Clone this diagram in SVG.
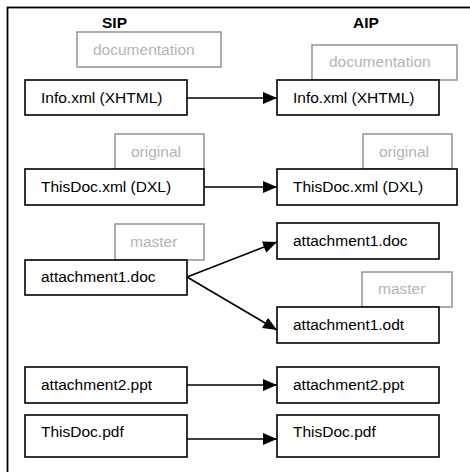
<svg xmlns="http://www.w3.org/2000/svg" width="470" height="472" viewBox="0 0 470 472">
<defs>
<style>
text{font-family:"Liberation Sans",Arial,sans-serif;font-size:15.5px}
.hdr{font-weight:bold;fill:#000}
.box{fill:#fff;stroke:#000;stroke-width:1.6}
.gbox{fill:#fff;stroke:#9a9a9a;stroke-width:1.6}
.t{fill:#000}
.gt{fill:#b4b4b4}
.conn{stroke:#000;stroke-width:1.6;fill:none;marker-end:url(#ah)}
</style>
<marker id="ah" markerUnits="userSpaceOnUse" markerWidth="15" markerHeight="13" refX="14" refY="6" orient="auto">
<path d="M0,0 L14,6 L0,12 z" fill="#000"/>
</marker>
</defs>
<rect x="0" y="0" width="470" height="472" fill="#fff"/>
<rect x="7.5" y="7.5" width="480" height="480" fill="none" stroke="#000" stroke-width="1.8"/>
<text class="hdr" x="102" y="28">SIP</text>
<text class="hdr" x="353" y="28">AIP</text>

<g id="doc_sip"><rect class="gbox" x="77" y="32" width="144" height="35"/><text class="gt" x="93" y="54.5">documentation</text></g>
<g id="orig_sip"><rect class="gbox" x="115" y="134" width="89" height="35"/><text class="gt" x="131" y="157">original</text></g>
<g id="master_sip"><rect class="gbox" x="115" y="224" width="89" height="36"/><text class="gt" x="130" y="247">master</text></g>
<g id="doc_aip"><rect class="gbox" x="312" y="45" width="145" height="35"/><text class="gt" x="329" y="67">documentation</text></g>
<g id="orig_aip"><rect class="gbox" x="363" y="134" width="89" height="35"/><text class="gt" x="379" y="157">original</text></g>
<g id="master_aip"><rect class="gbox" x="362" y="272" width="90" height="35"/><text class="gt" x="378" y="294">master</text></g>

<g id="info_sip"><rect class="box" x="25" y="80" width="162" height="35"/><text class="t" x="41" y="103">Info.xml (XHTML)</text></g>
<g id="thisdoc_sip"><rect class="box" x="25" y="169" width="179" height="36"/><text class="t" x="41" y="192">ThisDoc.xml (DXL)</text></g>
<g id="att1_sip"><rect class="box" x="25" y="260" width="162" height="35"/><text class="t" x="41" y="282">attachment1.doc</text></g>
<g id="att2_sip"><rect class="box" x="25" y="367" width="162" height="36"/><text class="t" x="41" y="390">attachment2.ppt</text></g>
<g id="pdf_sip"><rect class="box" x="25" y="415" width="162" height="42"/><text class="t" x="41" y="437">ThisDoc.pdf</text></g>

<g id="info_aip"><rect class="box" x="277" y="80" width="162" height="35"/><text class="t" x="293" y="103">Info.xml (XHTML)</text></g>
<g id="thisdoc_aip"><rect class="box" x="277" y="169" width="180" height="36"/><text class="t" x="293" y="192">ThisDoc.xml (DXL)</text></g>
<g id="att1doc_aip"><rect class="box" x="277" y="223" width="162" height="36"/><text class="t" x="293" y="246">attachment1.doc</text></g>
<g id="att1odt_aip"><rect class="box" x="277" y="307" width="162" height="36"/><text class="t" x="293" y="330">attachment1.odt</text></g>
<g id="att2_aip"><rect class="box" x="277" y="367" width="162" height="36"/><text class="t" x="293" y="390">attachment2.ppt</text></g>
<g id="pdf_aip"><rect class="box" x="277" y="415" width="162" height="42"/><text class="t" x="293" y="437">ThisDoc.pdf</text></g>

<g id="connectors">
<line class="conn" x1="187" y1="98" x2="277" y2="98"/>
<line class="conn" x1="204" y1="187" x2="277" y2="187"/>
<line class="conn" x1="187" y1="277" x2="277" y2="242"/>
<line class="conn" x1="187" y1="277" x2="277" y2="330"/>
<line class="conn" x1="187" y1="385" x2="277" y2="385"/>
<line class="conn" x1="187" y1="439" x2="277" y2="439"/>
</g>
</svg>
